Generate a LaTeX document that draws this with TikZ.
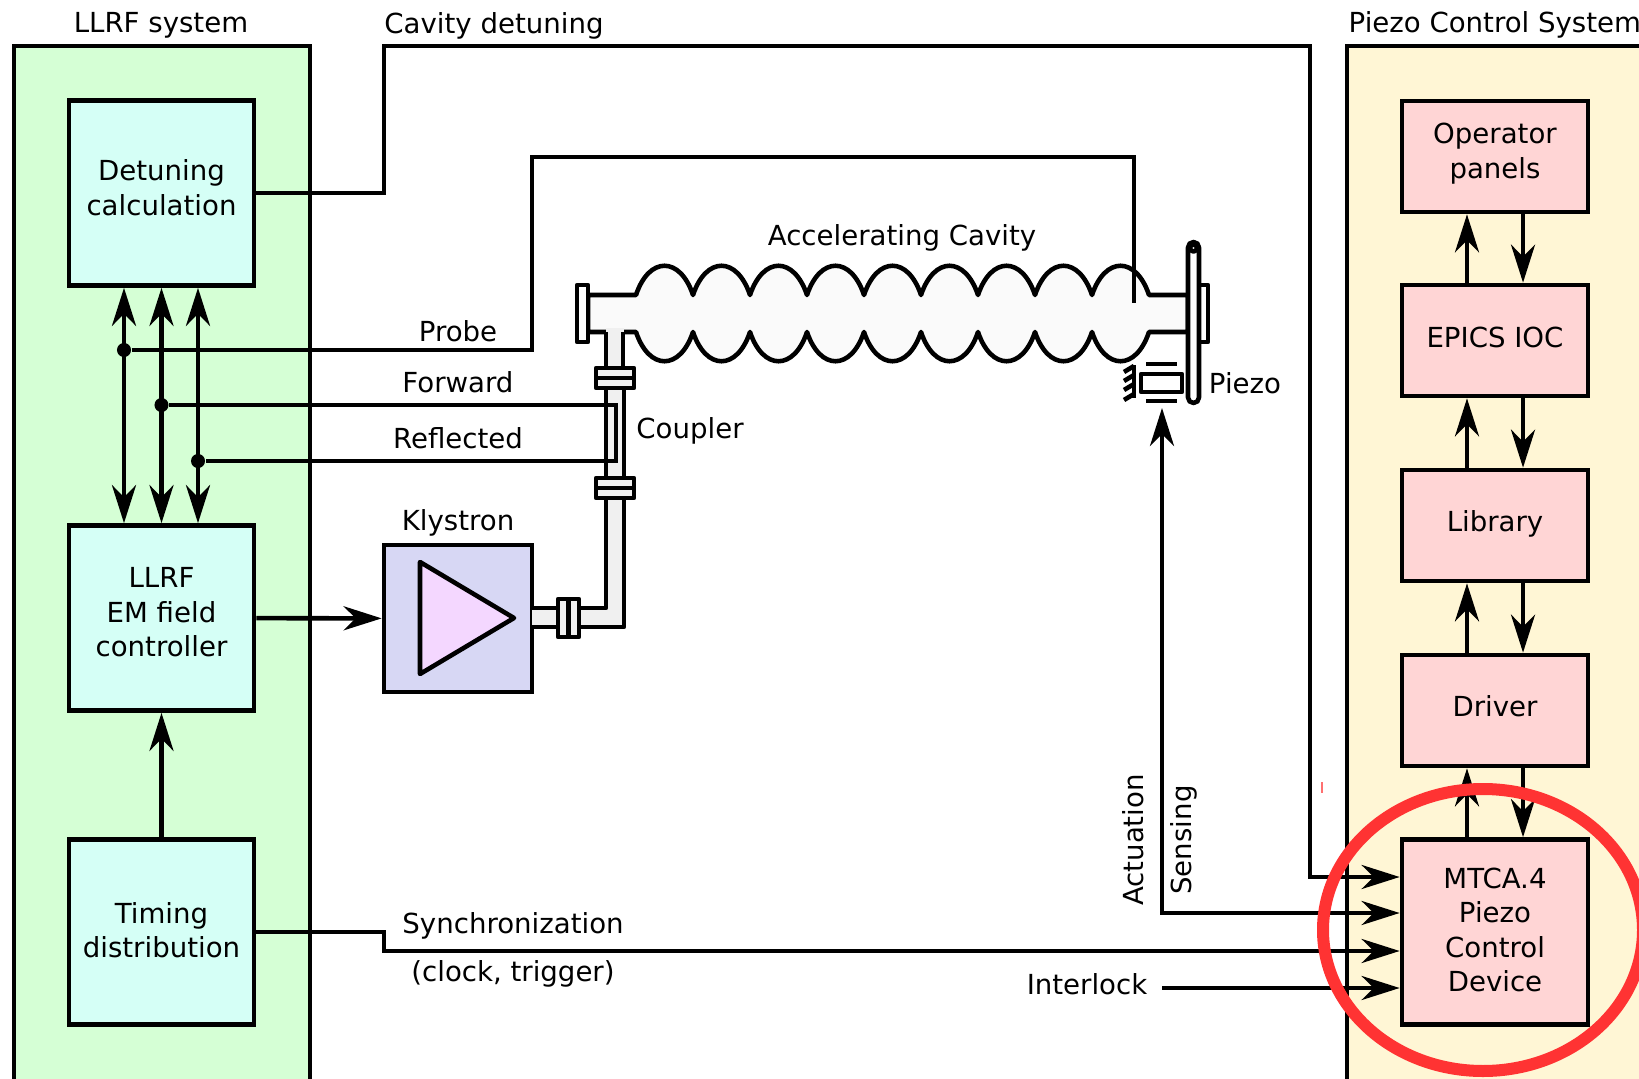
\documentclass[tikz,border=0pt]{standalone}
\usepackage{fontspec}
\setmainfont{DejaVu Sans}
\usepackage{tikz}
\usetikzlibrary{arrows.meta,positioning,calc}
\definecolor{PanelGreen}{RGB}{213,255,213}
\definecolor{PanelYellow}{RGB}{255,246,213}
\definecolor{BoxCyan}{RGB}{213,255,246}
\definecolor{BoxPink}{RGB}{255,213,213}
\definecolor{KlyBlue}{RGB}{215,215,244}
\definecolor{KlyViolet}{RGB}{244,215,255}
\definecolor{RingRed}{RGB}{255,51,51}

\begin{document}
\begin{tikzpicture}[
        x=0.01cm,y=-0.01cm,
        >={Stealth[length=0.38cm,width=0.24cm,inset=0.12cm]},
        txt/.style={font=\fontsize{7.85}{9.8}\selectfont,align=center,inner sep=0pt},
        lift/.style={execute at end node={\rule[-#1]{0pt}{#1}}},
        panel/.style={draw=black,line width=1.3pt},
        llrfbox/.style={txt,draw=black,line width=1.3pt,fill=BoxCyan,
                        minimum width=1.85cm,minimum height=1.85cm},
        piezobox/.style={txt,draw=black,line width=1.3pt,fill=BoxPink,
                         minimum width=1.86cm,minimum height=1.11cm},
        sig/.style={line width=1.3pt},
        arr/.style={sig,->},
        biarr/.style={sig,<->},
        pipe/.style={draw=black,line width=1.3pt,line join=round},
        dot/.style={circle,fill=black,inner sep=0pt,minimum size=0.14cm}
      ]
        \useasboundingbox (0,0) rectangle (1639,1079);
        \clip (0,0) rectangle (1639,1079);
        % panels
        \draw[panel,fill=PanelGreen] (14,46) rectangle (310,1100);
        \draw[panel,fill=PanelYellow] (1347,46) rectangle (1660,1100);
        \node[txt] (llrftitle) at (161,25) {LLRF system};
        \node[txt] (cavtitle) at (494,26) {Cavity detuning};
        \node[txt,anchor=west] (piezotitle) at (1348,25) {Piezo Control System};
        % LLRF boxes
        \node[llrfbox,lift=3.2pt] (det) at (161.5,193) {Detuning\\calculation};
        \node[llrfbox,lift=3.3pt] (llrf) at (161.5,618) {LLRF\\EM field\\controller};
        \node[llrfbox,lift=1.2pt] (timing) at (161.5,932) {Timing\\distribution};
        % piezo boxes
        \node[piezobox,lift=3.3pt] (oper) at (1495,156.5) {Operator\\panels};
        \node[piezobox,lift=2pt] (epics) at (1495,340.5) {EPICS IOC};
        \node[piezobox,lift=2.7pt] (lib) at (1495,525.5) {Library};
        \node[piezobox,lift=2.3pt] (driver) at (1495,710.5) {Driver};
        \node[piezobox,lift=1.2pt,minimum height=1.85cm] (mtca) at (1495,932) {MTCA.4\\Piezo\\Control\\Device};
        \foreach \lo/\hi in {mtca/driver,driver/lib,lib/epics,epics/oper}{
          \draw[arr] ([xshift=-0.28cm]\lo.north) -- ([xshift=-0.28cm]\hi.south);
          \draw[arr] ([xshift=0.28cm]\hi.south) -- ([xshift=0.28cm]\lo.north);
        }
        % klystron
        \node[draw=black,line width=1.3pt,fill=KlyBlue,minimum width=1.48cm,minimum height=1.47cm] (kly) at (458,618.5) {};
        \draw[line width=1.3pt,fill=KlyViolet,line join=round] (420,562) -- (420,674) -- (514,618) -- cycle;
        \node[txt] (klylabel) at (458,523) {Klystron};
        % cavity
        \filldraw[pipe,fill=black!2] (588,295) -- (636,295)
          \foreach \ca in {636,693,...,1092}{ .. controls (\ca+13,256) and (\ca+44,256) .. (\ca+57,295) }
          -- (1188,295) -- (1188,332) -- (1149,332)
          \foreach \cb in {1149,1092,...,693}{ .. controls (\cb-13,371) and (\cb-44,371) .. (\cb-57,332) }
          -- (588,332) -- cycle;
        \draw[pipe,fill=white] (577,285) rectangle (588,342);
        \node[txt] (cavlabel) at (902,238) {Accelerating Cavity};
        % coupler
        \fill[black!6] (606,328) rectangle (624,627);
        \fill[black!6] (532,608) rectangle (624,627);
        \draw[pipe] (606,332) -- (606,368) (623,332) -- (623,368);
        \draw[pipe] (606,388) -- (606,608) -- (579,608) (624,388) -- (624,627) -- (579,627);
        \draw[pipe] (558,608) -- (532,608) (558,627) -- (532,627);
        \foreach \fy in {368,478}{
          \draw[pipe,fill=black!6] (596,\fy) rectangle (634,\fy+20);
          \draw[pipe] (596,\fy+10) -- (634,\fy+10);
        }
        \draw[pipe,fill=black!6] (558,599) rectangle (579,637);
        \draw[pipe] (568.5,599) -- (568.5,637);
        \node[txt] (couplabel) at (690,431) {Coupler};
        % tuner end
        \draw[pipe,fill=white] (1199,285) rectangle (1208,342);
        \draw[pipe,fill=white,rounded corners=0.055cm] (1188,242) rectangle (1199,403);
        \draw[pipe,fill=white] (1193.5,248) circle [radius=3.5];
        \draw[pipe] (1141,374) rectangle (1182,392);
        \draw[sig] (1146,364) -- (1177,364) (1146,401) -- (1177,401);
        \draw[pipe] (1134,365) -- (1134,398);
        \foreach \hy in {370,379,388,398}{
          \draw[sig] (1134,\hy-4) -- (1124,\hy+2);
        }
        \node[txt] (piezolabel) at (1245,383) {Piezo};
        % junctions
        \node[dot] (jprobe) at (124,350) {};
        \node[dot] (jfwd) at (161.5,405) {};
        \node[dot] (jrefl) at (198,461) {};
        \draw[biarr] (det.south -| jprobe) -- (llrf.north -| jprobe);
        \draw[biarr] (det.south -| jfwd) -- (llrf.north -| jfwd);
        \draw[biarr] (det.south -| jrefl) -- (llrf.north -| jrefl);
        \coordinate (probetop) at (532,157);
        \coordinate (probeend) at (1134,303);
        \draw[sig] (jprobe) -| (probetop) -| (probeend);
        \draw[sig] (jfwd) -- (616,405) -- (616,461) -- (jrefl);
        \node[txt] (probelabel) at (458,331) {Probe};
        \node[txt] (fwdlabel) at (458,382) {Forward};
        \node[txt] (refllabel) at (458,438) {Reflected};
        % signals
        \draw[arr] (llrf) -- (kly);
        \draw[arr] (timing) -- (llrf);
        \coordinate (cavtop) at (384,46);
        \coordinate (cavright) at (1310,46);
        \draw[arr] (det.east) -| (cavtop) -- (cavright) |- (mtca.west |- 0,877);
        \coordinate (actend) at (1162,408);
        \draw[biarr] (actend) |- (mtca.west |- 0,913);
        \coordinate (syncbend) at (384,951);
        \draw[arr] (timing.east) -| (syncbend) -- (mtca.west |- 0,951);
        \node[txt] (synclabel) at (513,926) {Synchronization};
        \node[txt] (clocklabel) at (513,974) {(clock, trigger)};
        \node[txt] (intlabel) at (1087,984) {Interlock};
        \coordinate (intstart) at (1162,988);
        \draw[arr] (intstart) -- (mtca.west |- 0,988);
        \node[txt,rotate=90] (actlabel) at (1133,840) {Actuation};
        \node[txt,rotate=90] (senslabel) at (1184,840) {Sensing};
        % highlight
        \draw[line width=0.12cm,RingRed] (1483,930) ellipse [x radius=160,y radius=141];
        \draw[RingRed!70,line width=0.5pt] (1322,782) -- (1322,793);
      \end{tikzpicture}
\end{document}
